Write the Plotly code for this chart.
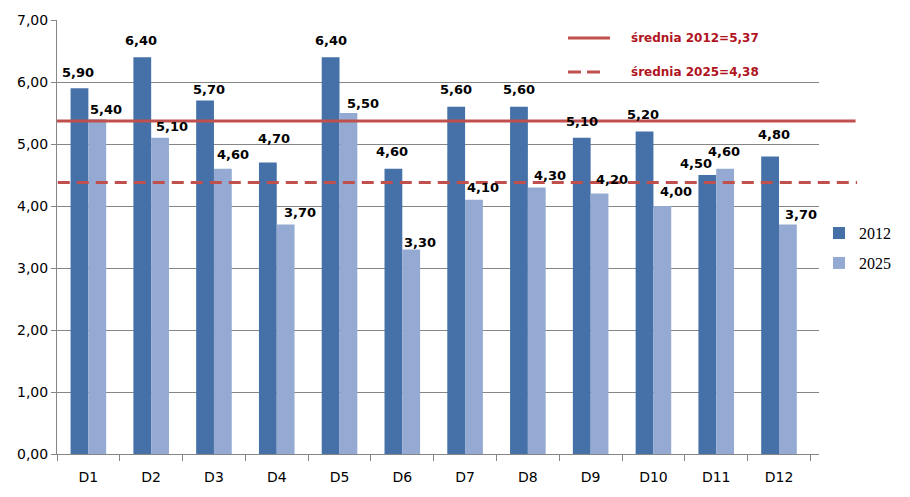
import plotly.graph_objects as go

categories = ["D1", "D2", "D3", "D4", "D5", "D6", "D7", "D8", "D9", "D10", "D11", "D12"]
series_names = ["2012", "2025"]
values_2012 = [5.9, 6.4, 5.7, 4.7, 6.4, 4.6, 5.6, 5.6, 5.1, 5.2, 4.5, 4.8]
values_2025 = [5.4, 5.1, 4.6, 3.7, 5.5, 3.3, 4.1, 4.3, 4.2, 4.0, 4.6, 3.7]
avg_2012 = 5.37
avg_2025 = 4.38
avg_labels = ["średnia 2012=5,37", "średnia 2025=4,38"]

# label offsets (px) relative to category center / value
dx_2012 = [-10, -10, -5, -3, -9, -10, -9, -9, -9, -10, -20, -5]
dy_2012 = [16, 17, 11, 24, 17, 17, 17, 17, 16, 17, 12, 22]
dx_2025 = [18, 21, 19, 23, 23, 18, 18, 22, 21, 23, 8, 22]
dy_2025 = [10, 11, 14, 12, 10, 7, 12, 12, 14, 15, 17, 10]

C2012 = "#4571A8"
C2025 = "#94AAD2"
RED = "#C0504D"
TXTRED = "#B0141E"
GRID = "#868686"
SANS = "DejaVu Sans"


def fmt(v):
    return f"{v:.2f}".replace(".", ",")


fig = go.Figure()
fig.add_trace(go.Bar(x=categories, y=values_2012, name=series_names[0],
                     marker=dict(color=C2012, line=dict(width=0)), legend="legend"))
fig.add_trace(go.Bar(x=categories, y=values_2025, name=series_names[1],
                     marker=dict(color=C2025, line=dict(width=0)), legend="legend2"))

annotations = []
for vals, dxs, dys in ((values_2012, dx_2012, dy_2012), (values_2025, dx_2025, dy_2025)):
    for c, v, dx, dy in zip(categories, vals, dxs, dys):
        annotations.append(dict(x=c, y=v, xref="x", yref="y", text=fmt(v), showarrow=False,
                                xanchor="center", yanchor="middle", xshift=dx, yshift=dy,
                                font=dict(family=SANS, size=13, color="#000000", weight="bold")))

# legend of average lines
annotations.append(dict(x=0.7507, y=0.9585, xref="paper", yref="paper", text=avg_labels[0],
                        showarrow=False, xanchor="left", yanchor="middle",
                        font=dict(family=SANS, size=12, color=TXTRED, weight="bold")))
annotations.append(dict(x=0.7507, y=0.880, xref="paper", yref="paper", text=avg_labels[1],
                        showarrow=False, xanchor="left", yanchor="middle",
                        font=dict(family=SANS, size=12, color=TXTRED, weight="bold")))

shapes = [
    dict(type="line", xref="paper", yref="y", x0=0, x1=1.048, y0=avg_2012, y1=avg_2012,
         line=dict(color=RED, width=3), layer="above"),
    dict(type="line", xref="paper", yref="y", x0=0.001, x1=1.05, y0=avg_2025, y1=avg_2025,
         line=dict(color=RED, width=3, dash="12px,7px"), layer="above"),
    dict(type="line", xref="paper", yref="paper", x0=0.6706, x1=0.7257, y0=0.9585, y1=0.9585,
         line=dict(color=RED, width=3)),
    dict(type="line", xref="paper", yref="paper", x0=0.6706, x1=0.7135, y0=0.880, y1=0.880,
         line=dict(color=RED, width=3, dash="13px,6px")),
]

fig.update_layout(
    width=910, height=497,
    margin=dict(l=49, r=99, t=12, b=51, autoexpand=False),
    paper_bgcolor="white", plot_bgcolor="white",
    separators=", ",
    barmode="group", bargap=0.433, bargroupgap=0,
    annotations=annotations, shapes=shapes,
    showlegend=True,
    legend=dict(x=1.0, y=0.509, xanchor="left", yanchor="middle", bgcolor="rgba(0,0,0,0)",
                font=dict(family="Liberation Serif", size=16, color="#000000")),
    legend2=dict(x=1.0, y=0.440, xanchor="left", yanchor="middle", bgcolor="rgba(0,0,0,0)",
                 font=dict(family="Liberation Serif", size=16, color="#000000")),
    xaxis=dict(showgrid=False, showline=True, linecolor=GRID, linewidth=1, automargin=False,
               ticks="outside", tickson="boundaries", ticklen=6, tickcolor=GRID,
               ticklabelstandoff=10,
               tickfont=dict(family=SANS, size=14, color="#000000")),
    yaxis=dict(range=[0, 7], dtick=1, tick0=0, tickformat=".2f", automargin=False,
               showgrid=True, gridcolor=GRID, gridwidth=1,
               showline=True, linecolor=GRID, linewidth=1,
               ticks="outside", ticklen=5, tickcolor=GRID,
               zeroline=False,
               tickfont=dict(family=SANS, size=14, color="#000000")),
)

fig.write_html("out.html")
